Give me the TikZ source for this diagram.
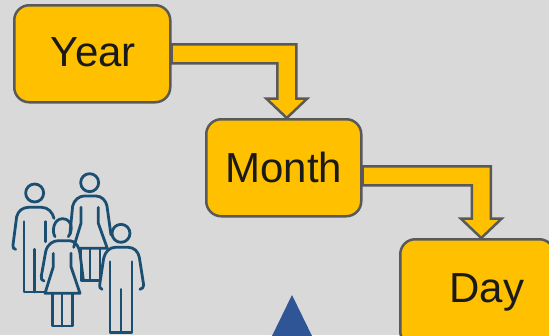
\documentclass[tikz,border=0pt]{standalone}
\usepackage{fontspec}
\setmainfont{Liberation Sans}
\usetikzlibrary{backgrounds,calc}
\definecolor{bggray}{HTML}{D9D9D9}
\definecolor{amber}{HTML}{FFC000}
\definecolor{edgegray}{HTML}{595959}
\definecolor{inkblue}{HTML}{1B4F72}
\definecolor{triblue}{HTML}{2F5597}
\definecolor{nearblack}{HTML}{1A1A1A}
\tikzset{
  box/.style={draw=edgegray,fill=amber,line width=2.5pt,rounded corners=15pt,inner sep=0pt,
    text=nearblack,font=\fontsize{42}{42}\selectfont,anchor=north west},
  plainlabel/.style={inner sep=0pt,text=nearblack,font=\fontsize{42}{42}\selectfont},
  bent/.style={draw=edgegray,fill=amber,line width=2.5pt,line join=miter},
  person/.style={draw=inkblue,line width=2.8pt,line cap=round,line join=round}
}
\newcommand{\elbow}[2]{%
  \path[bent] let \p1=(#1), \p2=(#2) in
    (\x1,\y1+9.5pt) -- (\x2+9.5pt,\y1+9.5pt) -- (\x2+9.5pt,\y2+19.5pt) -- (\x2+20.5pt,\y2+19.5pt)
    -- (\x2,\y2) -- (\x2-20.5pt,\y2+19.5pt) -- (\x2-9.5pt,\y2+19.5pt) -- (\x2-9.5pt,\y1-9.5pt)
    -- (\x1,\y1-9.5pt) -- cycle;}
\begin{document}
\begin{tikzpicture}[x=1pt,y=-1pt]
\useasboundingbox (0,0) rectangle (549,335);
\clip (0,0) rectangle (549,335);
\node[box,minimum width=156pt,minimum height=97pt] (year) at (13,4) {\hspace*{2pt}\raisebox{3pt}{Year}};
\node[box,minimum width=155pt,minimum height=97pt] (month) at (205,118) {\raisebox{-2pt}{Month}};
\node[box,minimum width=154pt,minimum height=107pt] (day) at (399,238) {};
\node[plainlabel] (daytext) at (487,292.5) {Day};
\coordinate (starta) at (year.east);
\coordinate (startb) at ($(month.east)+(0,8)$);
\coordinate (tipa) at ($(month.north)+(3,0)$);
\coordinate (tipb) at ($(day.north)+(4,0)$);
\begin{scope}[on background layer]
\fill[bggray] (0,0) rectangle (549,335);
\elbow{starta}{tipa}
\elbow{startb}{tipb}
\end{scope}
\fill[triblue] (292,295) -- (313,338) -- (271,338) -- cycle;
\begin{scope}[shift={(0,170)},x=0.3333pt,y=-0.3333pt,person]
 % left man
 \draw[person] (104,69) circle[radius=27];
 \draw[person] (47,238) .. controls (40,238) and (38,232) .. (39,225) -- (50,140) .. controls (54,122) and (70,112) .. (85,112) -- (125,112) .. controls (145,112) and (158,128) .. (162,145);
 \draw[person] (72,155) -- (72,366) -- (135,366);
 \draw[person] (137,155) -- (137,215);
 \draw[person] (104,238) -- (104,366);
 % woman
 \draw[person] (269,38) circle[radius=27];
 \draw[person] (210,190) -- (218,108) .. controls (222,90) and (238,78) .. (252,78) -- (288,78) .. controls (305,78) and (318,92) .. (321,108) -- (333,195);
 \draw[person] (243,112) -- (243,160) -- (221,232);
 \draw[person] (295,112) -- (295,160) -- (322,235) -- (240,235);
 \draw[person] (243,235) -- (243,332) -- (300,332) -- (300,238);
 \draw[person] (270,238) -- (270,332);
 % girl
 \draw[person] (165,200) .. controls (155,185) and (160,146) .. (188,146) .. controls (205,146) and (214,160) .. (214,175) .. controls (214,185) and (210,195) .. (205,200);
 \draw[person] (132,333) .. controls (125,333) and (123,325) .. (124,318) -- (137,245) .. controls (142,222) and (160,212) .. (175,212) -- (205,212) .. controls (228,212) and (238,232) .. (240,250) -- (250,330);
 \draw[person] (160,250) -- (160,290) -- (135,370) -- (240,370) -- (213,290) -- (213,250);
 \draw[person] (157,372) -- (157,468) -- (217,468) -- (217,372);
 \draw[person] (186,372) -- (186,468);
 % boy
 \draw[person] (363,190) circle[radius=27];
 \draw[person] (306,358) .. controls (300,356) and (298,350) .. (299,345) -- (311,265) .. controls (315,245) and (330,232) .. (345,232) -- (385,232) .. controls (402,232) and (415,245) .. (418,262) -- (431,345) .. controls (431,352) and (427,357) .. (420,358);
 \draw[person] (330,275) -- (330,487) -- (396,487) -- (396,275);
 \draw[person] (363,358) -- (363,487);
\end{scope}
\end{tikzpicture}
\end{document}
